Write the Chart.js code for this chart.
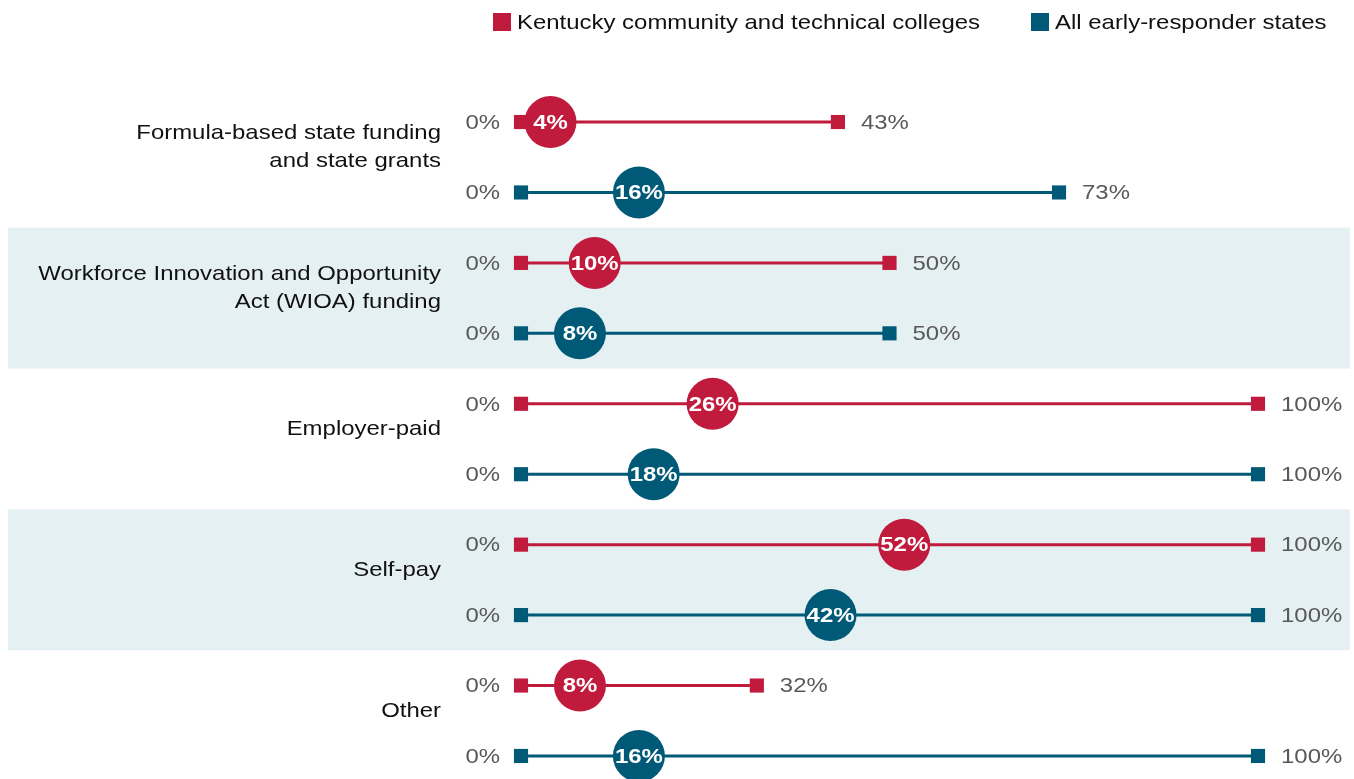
<!DOCTYPE html>
<html>
<head>
<meta charset="utf-8">
<title>Funding sources</title>
<script src="https://cdn.jsdelivr.net/npm/chart.js@4.4.1/dist/chart.umd.min.js"></script>
<style>
    html, body { margin: 0; padding: 0; overflow: hidden; background: #fff; }
    #wrap { position: relative; width: 1354px; height: 779px; }
    #chart { display: block; width: 1354px; height: 779px; }
    .lg { position: absolute; top: 10px; font: 21px "Liberation Sans", Arial, sans-serif; color: #111; white-space: nowrap; }
    .lg i { display: inline-block; width: 18px; height: 18px; margin-right: 6px; vertical-align: -2px; }
    .lg span { display: inline-block; transform: scaleX(1.14); transform-origin: 0 50%; }
</style>
</head>
<body>
<div id="wrap">
    <canvas id="chart" width="1354" height="779"></canvas>
    <div class="lg" style="left:493px"><i style="background:#c01b3c"></i><span>Kentucky community and technical colleges</span></div>
    <div class="lg" style="left:1031px"><i style="background:#005a77"></i><span>All early-responder states</span></div>
</div>
<script>
// Data
const categories = [
    ['Formula-based state funding', 'and state grants'],
    ['Workforce Innovation and Opportunity', 'Act (WIOA) funding'],
    ['Employer-paid'],
    ['Self-pay'],
    ['Other']
];
const seriesNames = ['Kentucky community and technical colleges', 'All early-responder states'];
const kyMin    = [0, 0, 0, 0, 0];
const kyMedian = [4, 10, 26, 52, 8];
const kyMax    = [43, 50, 100, 100, 32];
const allMin    = [0, 0, 0, 0, 0];
const allMedian = [16, 8, 18, 42, 16];
const allMax    = [73, 50, 100, 100, 100];

const colors = ['#c01b3c', '#005a77'];
const FONT = '"Liberation Sans", Arial, sans-serif';
const STRETCH = 1.14;

const series = [
    { min: kyMin, med: kyMedian, max: kyMax },
    { min: allMin, med: allMedian, max: allMax }
];

// Build datasets: one range line per row, one median scatter per series
let datasets = [];
categories.forEach((c, i) => {
    series.forEach((s, k) => {
        let row = i * 2 + k;
        datasets.push({
            label: seriesNames[k],
            showLine: true,
            clip: false,
            order: 1,
            borderColor: colors[k],
            borderWidth: 3,
            pointStyle: 'rect',
            pointRadius: 10,
            pointBorderWidth: 0,
            pointBackgroundColor: colors[k],
            data: [{ x: s.min[i], y: row }, { x: s.max[i], y: row }]
        });
    });
});
series.forEach((s, k) => {
    datasets.push({
        label: seriesNames[k] + ' median',
        clip: false,
        order: 0,
        pointStyle: 'circle',
        pointRadius: 26,
        pointBorderWidth: 0,
        pointBackgroundColor: colors[k],
        data: s.med.map((v, i) => ({ x: v, y: i * 2 + k }))
    });
});

// text is a bit wider in the original, so stretch it horizontally
function drawText(ctx, text, x, y) {
    ctx.save();
    ctx.translate(x, y);
    ctx.scale(STRETCH, 1);
    ctx.fillText(text, 0, 0);
    ctx.restore();
}

// Shaded bands behind every other category
const bandsPlugin = {
    id: 'bands',
    beforeDatasetsDraw(chart) {
        let ctx = chart.ctx, y = chart.scales.y;
        ctx.save();
        ctx.fillStyle = '#e5f0f2';
        categories.forEach((c, i) => {
            if (i % 2 === 1) {
                let top = y.getPixelForValue(i * 2 - 0.5);
                let bottom = y.getPixelForValue(i * 2 + 1.5);
                ctx.fillRect(8, top, 1342, bottom - top);
            }
        });
        ctx.restore();
    }
};

// Category labels, end labels and median labels
const labelsPlugin = {
    id: 'labels',
    afterDraw(chart) {
        let ctx = chart.ctx, x = chart.scales.x, y = chart.scales.y;
        ctx.save();
        ctx.textBaseline = 'middle';

        // category names
        ctx.font = '21px ' + FONT;
        ctx.fillStyle = '#111';
        ctx.textAlign = 'right';
        categories.forEach((lines, i) => {
            let mid = (y.getPixelForValue(i * 2) + y.getPixelForValue(i * 2 + 1)) / 2 - 10;
            let start = mid - (lines.length - 1) * 14;
            lines.forEach((t, j) => drawText(ctx, t, 441, start + j * 28));
        });

        // min / max labels
        ctx.fillStyle = '#595959';
        categories.forEach((c, i) => {
            series.forEach((s, k) => {
                let py = y.getPixelForValue(i * 2 + k) + 1;
                ctx.textAlign = 'right';
                drawText(ctx, s.min[i] + '%', 500, py);
                ctx.textAlign = 'left';
                drawText(ctx, s.max[i] + '%', x.getPixelForValue(s.max[i]) + 23, py);
            });
        });

        // median values inside circles
        ctx.font = 'bold 21px ' + FONT;
        ctx.fillStyle = '#fff';
        ctx.textAlign = 'center';
        series.forEach((s, k) => {
            let meta = chart.getDatasetMeta(datasets.length - 2 + k);
            meta.data.forEach((pt, i) => drawText(ctx, s.med[i] + '%', pt.x, pt.y + 1));
        });
        ctx.restore();
    }
};

new Chart(document.getElementById('chart'), {
    type: 'scatter',
    data: { datasets: datasets },
    options: {
        responsive: false,
        maintainAspectRatio: false,
        animation: false,
        events: [],
        layout: { autoPadding: false, padding: { left: 521, right: 96, top: 86.8, bottom: 0 } },
        scales: {
            x: { type: 'linear', min: 0, max: 100, display: false },
            // the last row sits partly below the bottom edge, as in the original
            y: { type: 'linear', min: -0.5, max: 9.327, reverse: true, display: false }
        },
        plugins: {
            legend: { display: false },
            tooltip: { enabled: false }
        }
    },
    plugins: [bandsPlugin, labelsPlugin]
});
</script>
</body>
</html>
